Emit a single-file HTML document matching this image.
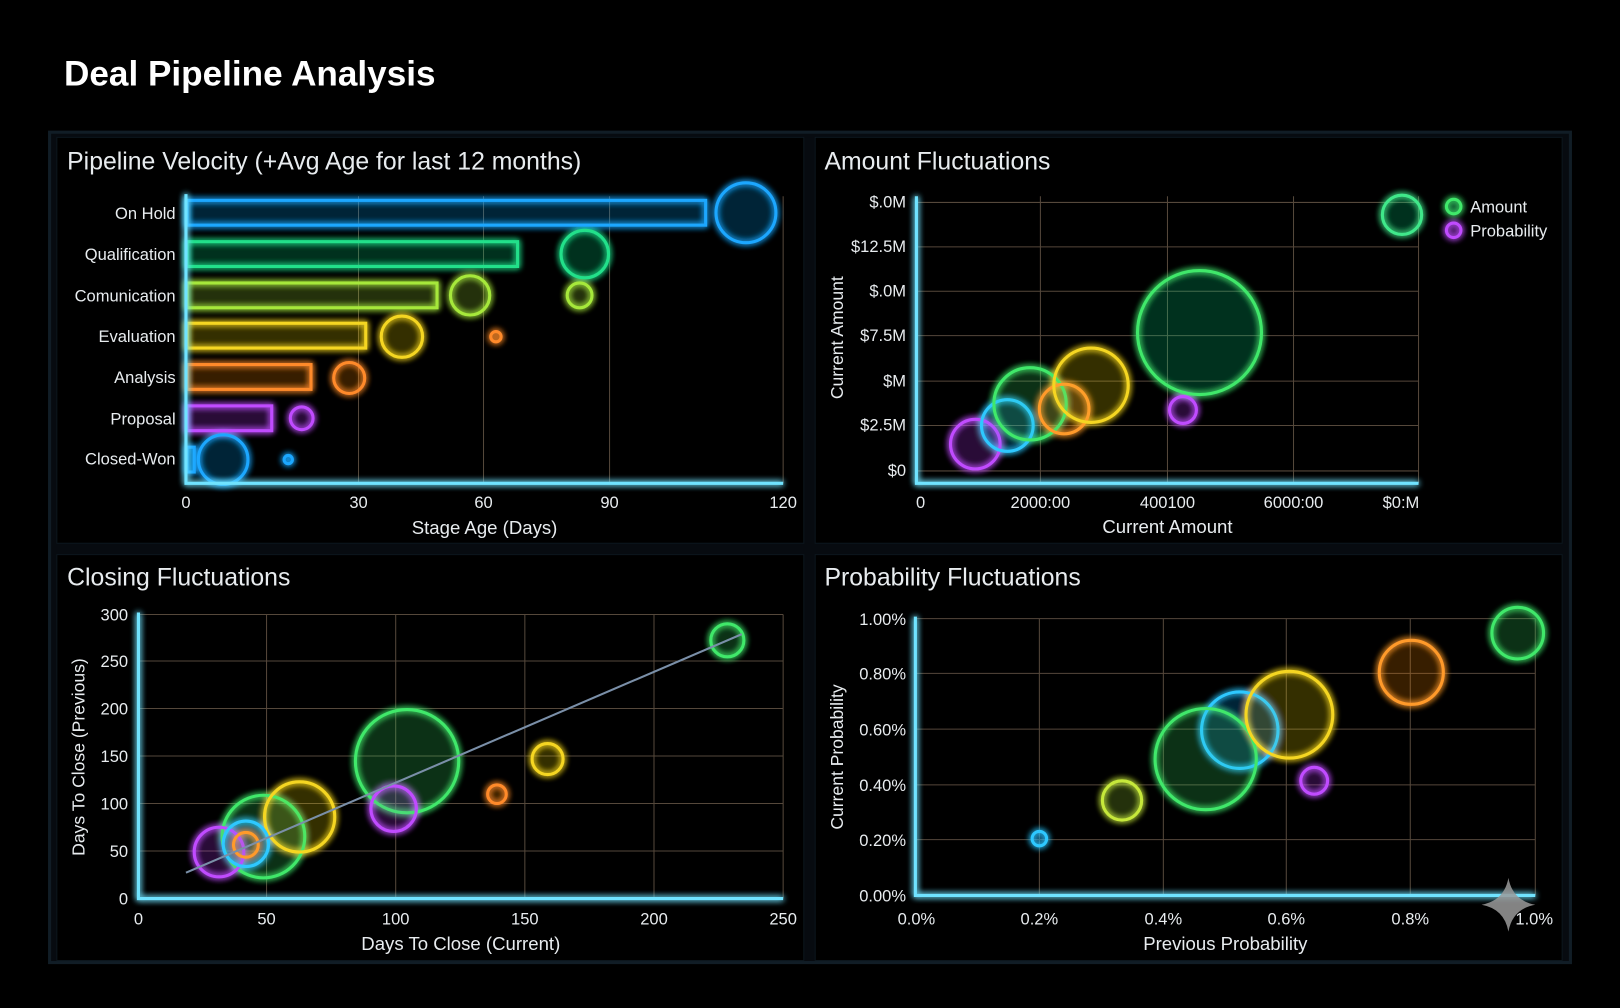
<!DOCTYPE html>
<html><head><meta charset="utf-8"><style>
html,body{margin:0;padding:0;background:#000;width:1620px;height:1008px;overflow:hidden}
svg{display:block}
text{font-family:"Liberation Sans Narrow","Liberation Sans",sans-serif;fill:#e8ecef}
.t{font-size:24px}
.l{font-size:16px}
.g{stroke:#6b5a4a;stroke-width:1;opacity:.8}
.ax{stroke:#6fe3ff;stroke-width:3;filter:url(#glow)}
g.b circle,g.b rect{fill-opacity:.08}
</style></head><body>
<svg width="1620" height="1008" viewBox="0 0 1568 976" preserveAspectRatio="none">
<defs>
<filter id="glow" x="-50%" y="-50%" width="200%" height="200%">
<feGaussianBlur stdDeviation="3" result="b"/><feMerge><feMergeNode in="b"/><feMergeNode in="b"/><feMergeNode in="SourceGraphic"/></feMerge>
</filter>
</defs>
<rect width="1568" height="976" fill="#000"/>
<text x="62" y="83" style="font-family:'Liberation Sans',sans-serif;font-weight:bold;font-size:34px;fill:#fff">Deal Pipeline Analysis</text>
<rect x="48" y="128" width="1472" height="804" fill="#070b10" stroke="#111d26" stroke-width="3"/>
<rect x="55" y="133" width="723" height="393" fill="#000" stroke="#0c161d"/>
<rect x="789" y="133" width="723" height="393" fill="#000" stroke="#0c161d"/>
<rect x="55" y="537" width="723" height="393" fill="#000" stroke="#0c161d"/>
<rect x="789" y="537" width="723" height="393" fill="#000" stroke="#0c161d"/>

<!-- Chart 1 -->
<text class="t" x="65" y="164">Pipeline Velocity (+Avg Age for last 12 months)</text>
<g class="g"><line x1="347" y1="190" x2="347" y2="468"/><line x1="468" y1="190" x2="468" y2="468"/><line x1="590" y1="190" x2="590" y2="468"/><line x1="758" y1="190" x2="758" y2="468"/></g>
<g class="l" text-anchor="end">
<text x="170" y="212">On Hold</text><text x="170" y="252">Qualification</text><text x="170" y="292">Comunication</text><text x="170" y="331">Evaluation</text><text x="170" y="371">Analysis</text><text x="170" y="411">Proposal</text><text x="170" y="450">Closed-Won</text></g>
<g class="b" filter="url(#glow)" stroke-width="3">
<rect x="181" y="194" width="502" height="24" fill="#1ea7ff" stroke="#1ea7ff"/>
<rect x="181" y="234" width="320" height="24" fill="#22e08a" stroke="#22e08a"/>
<rect x="181" y="274" width="242" height="24" fill="#a6e83a" stroke="#a6e83a"/>
<rect x="181" y="313" width="173" height="24" fill="#f5d622" stroke="#f5d622"/>
<rect x="181" y="353" width="120" height="24" fill="#ff8a2a" stroke="#ff8a2a"/>
<rect x="181" y="393" width="82" height="24" fill="#c04cff" stroke="#c04cff"/>
<rect x="181" y="433" width="7" height="24" fill="#1ea7ff" stroke="#1ea7ff"/>
<circle cx="722" cy="206" r="29" fill="#1ea7ff" stroke="#1ea7ff"/>
<circle cx="566" cy="246" r="23" fill="#22e08a" stroke="#22e08a"/>
<circle cx="455" cy="286" r="19" fill="#a6e83a" stroke="#a6e83a"/>
<circle cx="561" cy="286" r="12" fill="#a6e83a" stroke="#a6e83a"/>
<circle cx="389" cy="326" r="20" fill="#f5d622" stroke="#f5d622"/>
<circle cx="480" cy="326" r="5" fill="#ff8a2a" stroke="#ff8a2a"/>
<circle cx="338" cy="366" r="15" fill="#ff8a2a" stroke="#ff8a2a"/>
<circle cx="292" cy="405" r="11" fill="#c04cff" stroke="#c04cff"/>
<circle cx="216" cy="445" r="24" fill="#1ea7ff" stroke="#1ea7ff"/>
<circle cx="279" cy="445" r="4" fill="#1ea7ff" stroke="#1ea7ff"/>
</g>
<path class="ax" d="M180 188 V468 H758" fill="none"/>
<g class="l" text-anchor="middle"><text x="180" y="492">0</text><text x="347" y="492">30</text><text x="468" y="492">60</text><text x="590" y="492">90</text><text x="758" y="492">120</text>
<text x="469" y="517" style="font-size:18px">Stage Age (Days)</text></g>

<!-- Chart 2 -->
<text class="t" x="798" y="164">Amount Fluctuations</text>
<g class="g"><line x1="1007" y1="190" x2="1007" y2="468"/><line x1="1130" y1="190" x2="1130" y2="468"/><line x1="1252" y1="190" x2="1252" y2="468"/><line x1="1373" y1="190" x2="1373" y2="468"/>
<line x1="887" y1="196" x2="1373" y2="196"/><line x1="887" y1="239" x2="1373" y2="239"/><line x1="887" y1="282" x2="1373" y2="282"/><line x1="887" y1="325" x2="1373" y2="325"/><line x1="887" y1="369" x2="1373" y2="369"/><line x1="887" y1="412" x2="1373" y2="412"/><line x1="887" y1="456" x2="1373" y2="456"/></g>
<g class="l" text-anchor="end"><text x="877" y="201">$.0M</text><text x="877" y="244">$12.5M</text><text x="877" y="287">$.0M</text><text x="877" y="330">$7.5M</text><text x="877" y="374">$M</text><text x="877" y="417">$2.5M</text><text x="877" y="461">$0</text></g>
<g class="b" filter="url(#glow)" stroke-width="3">
<circle cx="1161" cy="322" r="60" fill="#22e08a" stroke="#3fe86a"/>
<circle cx="944" cy="430" r="24" fill="#c04cff" stroke="#c04cff"/>
<circle cx="975" cy="412" r="25" fill="#1ea7ff" stroke="#2ec8ff"/>
<circle cx="997" cy="391" r="35" fill="#3fe86a" stroke="#3fe86a"/>
<circle cx="1030" cy="396" r="24" fill="#ff8a2a" stroke="#ff9a2a"/>
<circle cx="1056" cy="373" r="36" fill="#f5d622" stroke="#f5d622"/>
<circle cx="1145" cy="397" r="13" fill="#c04cff" stroke="#c04cff"/>
<circle cx="1357" cy="208" r="19" fill="#22e08a" stroke="#3fe88a"/>
<circle cx="1407" cy="200" r="7" fill="#22e08a" stroke="#3fe86a"/>
<circle cx="1407" cy="223" r="7" fill="#c04cff" stroke="#c04cff"/>
</g>
<text class="l" x="1423" y="206">Amount</text><text class="l" x="1423" y="229">Probability</text>
<path class="ax" d="M887 190 V468 H1373" fill="none"/>
<g class="l" text-anchor="middle"><text x="891" y="492">0</text><text x="1007" y="492">2000:00</text><text x="1130" y="492">400100</text><text x="1252" y="492">6000:00</text><text x="1356" y="492">$0:M</text>
<text x="1130" y="516" style="font-size:18px">Current Amount</text></g>
<text class="l" text-anchor="middle" transform="translate(816,327) rotate(-90)" style="font-size:17px">Current Amount</text>

<!-- Chart 3 -->
<text class="t" x="65" y="567">Closing Fluctuations</text>
<g class="g"><line x1="258" y1="595" x2="258" y2="870"/><line x1="383" y1="595" x2="383" y2="870"/><line x1="508" y1="595" x2="508" y2="870"/><line x1="633" y1="595" x2="633" y2="870"/><line x1="758" y1="595" x2="758" y2="870"/>
<line x1="134" y1="595" x2="758" y2="595"/><line x1="134" y1="640" x2="758" y2="640"/><line x1="134" y1="686" x2="758" y2="686"/><line x1="134" y1="732" x2="758" y2="732"/><line x1="134" y1="778" x2="758" y2="778"/><line x1="134" y1="824" x2="758" y2="824"/></g>
<g class="l" text-anchor="end"><text x="124" y="601">300</text><text x="124" y="646">250</text><text x="124" y="692">200</text><text x="124" y="738">150</text><text x="124" y="784">100</text><text x="124" y="830">50</text><text x="124" y="876">0</text></g>
<g class="b" filter="url(#glow)" stroke-width="3">
<circle cx="394" cy="737" r="50" fill="#3fe86a" stroke="#3fe86a"/>
<circle cx="255" cy="810" r="40" fill="#3fe86a" stroke="#3fe86a"/>
<circle cx="290" cy="791" r="34" fill="#f5d622" stroke="#f5d622"/>
<circle cx="212" cy="825" r="24" fill="#c04cff" stroke="#c04cff"/>
<circle cx="238" cy="817" r="22" fill="#1ea7ff" stroke="#2ec8ff"/>
<circle cx="238" cy="818" r="12" fill="#ff8a2a" stroke="#ff9a2a"/>
<circle cx="381" cy="783" r="22" fill="#c04cff" stroke="#c04cff"/>
<circle cx="481" cy="769" r="9" fill="#ff8a2a" stroke="#ff8a2a"/>
<circle cx="530" cy="735" r="15" fill="#f5d622" stroke="#f5d622"/>
<circle cx="704" cy="620" r="16" fill="#3fe86a" stroke="#3fe86a"/>
</g>
<line x1="180" y1="845" x2="718" y2="614" stroke="#7a8fa8" stroke-width="2"/>
<path class="ax" d="M134 593 V870 H758" fill="none"/>
<g class="l" text-anchor="middle"><text x="134" y="895">0</text><text x="258" y="895">50</text><text x="383" y="895">100</text><text x="508" y="895">150</text><text x="633" y="895">200</text><text x="758" y="895">250</text>
<text x="446" y="920" style="font-size:18px">Days To Close (Current)</text></g>
<text class="l" text-anchor="middle" transform="translate(82,733) rotate(-90)" style="font-size:17px">Days To Close (Previous)</text>

<!-- Chart 4 -->
<text class="t" x="798" y="567">Probability Fluctuations</text>
<g class="g"><line x1="1006" y1="599" x2="1006" y2="867"/><line x1="1126" y1="599" x2="1126" y2="867"/><line x1="1245" y1="599" x2="1245" y2="867"/><line x1="1365" y1="599" x2="1365" y2="867"/><line x1="1486" y1="599" x2="1486" y2="867"/>
<line x1="886" y1="599" x2="1486" y2="599"/><line x1="886" y1="652" x2="1486" y2="652"/><line x1="886" y1="706" x2="1486" y2="706"/><line x1="886" y1="760" x2="1486" y2="760"/><line x1="886" y1="813" x2="1486" y2="813"/></g>
<g class="l" text-anchor="end"><text x="877" y="605">1.00%</text><text x="877" y="658">0.80%</text><text x="877" y="712">0.60%</text><text x="877" y="766">0.40%</text><text x="877" y="819">0.20%</text><text x="877" y="873">0.00%</text></g>
<g class="b" filter="url(#glow)" stroke-width="3">
<circle cx="1469" cy="613" r="25" fill="#3fe86a" stroke="#3fe86a"/>
<circle cx="1366" cy="651" r="31" fill="#ff8a2a" stroke="#ff9a2a"/>
<circle cx="1200" cy="707" r="37" fill="#1ea7ff" stroke="#2ec8ff"/>
<circle cx="1167" cy="735" r="49" fill="#3fe86a" stroke="#3fe86a"/>
<circle cx="1248" cy="692" r="42" fill="#f5d622" stroke="#f5d622"/>
<circle cx="1272" cy="756" r="13" fill="#c04cff" stroke="#c04cff"/>
<circle cx="1086" cy="775" r="19" fill="#a6e83a" stroke="#c6e83a"/>
<circle cx="1006" cy="812" r="7" fill="#1ea7ff" stroke="#2ec8ff"/>
</g>
<path class="ax" d="M886 597 V867 H1486" fill="none"/>
<g class="l" text-anchor="middle"><text x="887" y="895">0.0%</text><text x="1006" y="895">0.2%</text><text x="1126" y="895">0.4%</text><text x="1245" y="895">0.6%</text><text x="1365" y="895">0.8%</text><text x="1485" y="895">1.0%</text>
<text x="1186" y="920" style="font-size:18px">Previous Probability</text></g>
<text class="l" text-anchor="middle" transform="translate(816,733) rotate(-90)" style="font-size:17px">Current Probability</text>
<path d="M1460 850 Q1464 872 1486 876 Q1464 880 1460 902 Q1456 880 1434 876 Q1456 872 1460 850Z" fill="#9a9a9a" opacity=".85"/>
</svg>
</body></html>
